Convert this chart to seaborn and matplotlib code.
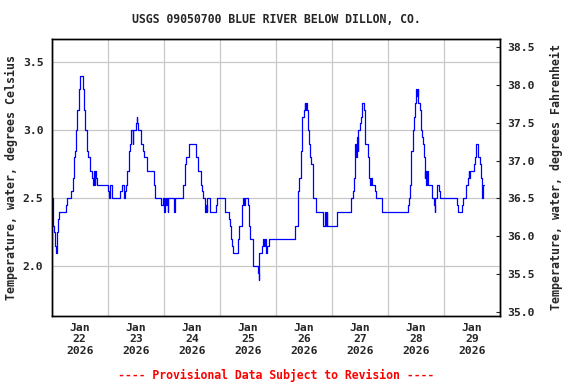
# USGS water temperature plot, Blue River below Dillon
import pandas as pd
import matplotlib
matplotlib.use("Agg")
import matplotlib.pyplot as plt
import matplotlib.dates as mdates
from matplotlib.ticker import FixedLocator, FormatStrFormatter
import seaborn as sns

# change points: hours since 2026-01-22 00:00, temperature in deg C
hours = [0.0, 0.4, 0.7, 1.1, 1.6, 1.9, 2.1, 2.4, 2.9, 3.3, 6.3, 6.7, 8.4, 8.9, 9.3, 9.7,
         10.1, 10.6, 11.0, 11.6, 12.0, 13.4, 14.0, 14.4, 14.9, 15.3, 15.7, 16.4, 17.3,
         17.7, 18.1, 18.4, 18.7, 19.1, 19.6, 24.3, 24.7, 25.1, 26.0, 29.4, 29.9, 31.1,
         31.6, 32.0, 32.4, 32.9, 33.3, 33.7, 34.1, 34.6, 35.0, 36.1, 36.4, 36.7, 37.0,
         38.4, 39.3, 39.7, 41.0, 43.9, 44.3, 47.0, 47.7, 48.1, 48.4, 48.9, 49.4, 49.7,
         50.0, 52.3, 52.6, 56.1, 56.9, 57.3, 57.7, 58.6, 61.6, 62.0, 62.6, 64.0, 64.4,
         64.9, 65.7, 66.1, 66.3, 66.6, 67.9, 70.4, 70.9, 74.4, 75.9, 76.3, 76.7, 77.1,
         77.6, 79.7, 80.4, 81.3, 81.7, 82.1, 82.4, 82.7, 83.9, 84.6, 85.0, 86.0, 86.4,
         88.3, 88.7, 88.9, 90.1, 90.6, 90.9, 91.3, 91.6, 92.4, 92.9, 104.4, 105.3, 105.7,
         106.1, 106.6, 107.0, 107.4, 107.9, 108.3, 108.6, 108.9, 109.3, 109.7, 110.1,
         110.6, 111.0, 111.9, 112.0, 113.0, 116.4, 117.1, 117.4, 117.9, 118.1, 122.4,
         128.4, 128.9, 129.3, 129.7, 130.1, 130.4, 130.7, 131.0, 131.4, 131.9, 132.4,
         132.9, 133.6, 134.0, 134.4, 135.3, 135.7, 136.1, 136.4, 136.7, 137.1, 138.3,
         138.7, 141.3, 152.4, 152.9, 153.3, 153.7, 154.1, 154.6, 155.0, 155.4, 155.9,
         156.1, 156.4, 156.7, 157.0, 157.7, 158.1, 158.6, 159.0, 159.4, 159.9, 160.1,
         160.4, 160.7, 161.1, 162.7, 163.6, 164.0, 164.3, 165.1, 166.0, 166.3, 173.4,
         173.9, 175.6, 176.0, 177.3, 178.1, 178.6, 178.9, 179.1, 180.7, 181.1, 181.6,
         182.6, 183.3, 183.7, 184.1, 184.4, 184.7, 185.0]
temp_c = [2.50, 2.45, 2.30, 2.25, 2.15, 2.10, 2.20, 2.25, 2.35, 2.40, 2.45, 2.50, 2.55, 2.60, 2.65, 2.80,
          2.85, 3.00, 3.15, 3.30, 3.40, 3.30, 3.15, 3.00, 2.95, 2.85, 2.80, 2.70, 2.65,
          2.60, 2.70, 2.60, 2.70, 2.65, 2.60, 2.55, 2.50, 2.60, 2.50, 2.55, 2.60, 2.50,
          2.55, 2.60, 2.70, 2.75, 2.85, 2.90, 3.00, 2.90, 3.00, 3.05, 3.10, 3.05, 3.00,
          2.90, 2.85, 2.80, 2.70, 2.60, 2.50, 2.45, 2.50, 2.40, 2.50, 2.45, 2.50, 2.40,
          2.50, 2.40, 2.50, 2.60, 2.65, 2.75, 2.80, 2.90, 2.85, 2.80, 2.70, 2.60, 2.55,
          2.50, 2.40, 2.45, 2.40, 2.50, 2.40, 2.45, 2.50, 2.40, 2.35, 2.30, 2.20, 2.15,
          2.10, 2.20, 2.30, 2.40, 2.45, 2.50, 2.45, 2.50, 2.45, 2.30, 2.20, 2.10, 2.00,
          1.95, 1.90, 2.10, 2.15, 2.20, 2.15, 2.20, 2.10, 2.15, 2.20, 2.30, 2.40, 2.55,
          2.65, 2.85, 3.00, 3.10, 3.15, 3.20, 3.15, 3.20, 3.15, 3.00, 2.90,
          2.80, 2.75, 2.65, 2.50, 2.40, 2.30, 2.40, 2.30, 2.40, 2.30, 2.40,
          2.50, 2.55, 2.65, 2.80, 2.90, 2.80, 2.95, 2.85, 3.00, 3.05, 3.10,
          3.20, 3.15, 3.00, 2.90, 2.80, 2.70, 2.65, 2.60, 2.65, 2.60, 2.55,
          2.50, 2.40, 2.45, 2.50, 2.60, 2.75, 2.85, 3.00, 3.10, 3.20, 3.25,
          3.30, 3.25, 3.30, 3.20, 3.15, 3.00, 2.95, 2.90, 2.80, 2.65, 2.70,
          2.60, 2.70, 2.60, 2.50, 2.45, 2.40, 2.50, 2.60, 2.55, 2.50, 2.45,
          2.40, 2.45, 2.50, 2.60, 2.65, 2.70, 2.65, 2.70, 2.75, 2.80, 2.90,
          2.80, 2.75, 2.65, 2.55, 2.50, 2.60, 2.60]

start = pd.Timestamp("2026-01-22")
df = pd.DataFrame({"time": start + pd.to_timedelta(hours, unit="h"), "temp": temp_c})

sns.set_style("white")
plt.rcParams["font.family"] = ["DejaVu Sans Mono"]
plt.rcParams["font.weight"] = "bold"

fig = plt.figure(figsize=(5.76, 3.84), dpi=100)
ax = fig.add_axes([0.0898, 0.1779, 0.7782, 0.7198])

sns.lineplot(data=df, x="time", y="temp", ax=ax, color="#0000ff", lw=0.9,
             drawstyle="steps-post", estimator=None)

ylim_c = (1.637, 3.669)
ax.set_ylim(*ylim_c)
ax.set_xlim(start, start + pd.Timedelta(days=8))

ax.yaxis.set_major_locator(FixedLocator([2.0, 2.5, 3.0, 3.5]))
ax.yaxis.set_major_formatter(FormatStrFormatter("%.1f"))
ax.xaxis.set_major_locator(mdates.HourLocator(byhour=[12]))
ax.xaxis.set_major_formatter(mdates.DateFormatter("%b\n%d\n%Y"))
ax.xaxis.set_minor_locator(mdates.DayLocator())
ax.grid(False)
ax.grid(True, axis="y", which="major", color="#c8c8c8", lw=0.9)
ax.grid(True, axis="x", which="minor", color="#c8c8c8", lw=0.9)
ax.tick_params(axis="both", which="both", length=0, labelsize=8.2)
ax.tick_params(axis="y", pad=6)
ax.tick_params(axis="x", pad=5)
for lbl in ax.get_xticklabels():
    lbl.set_linespacing(1.2)
for s in ax.spines.values():
    s.set_color("black")
    s.set_linewidth(1.0)

ax.set_xlabel("")
ax.set_ylabel("Temperature, water, degrees Celsius", fontsize=8.4, fontweight="bold")
ax.yaxis.set_label_coords(-0.075, 0.5)

# Fahrenheit axis on the right
ax2 = ax.twinx()
ax2.set_ylim(ylim_c[0] * 1.8 + 32, ylim_c[1] * 1.8 + 32)
ax2.yaxis.set_major_locator(FixedLocator([35.0, 35.5, 36.0, 36.5, 37.0, 37.5, 38.0, 38.5]))
ax2.yaxis.set_major_formatter(FormatStrFormatter("%.1f"))
ax2.tick_params(axis="y", direction="in", length=3, width=0.8, pad=5, labelsize=8.2)
ax2.grid(False)
ax2.set_ylabel("Temperature, water, degrees Fahrenheit", fontsize=8.4, fontweight="bold",
               rotation=90)
ax2.yaxis.set_label_coords(1.111, 0.5)
for s in ax2.spines.values():
    s.set_color("black")
    s.set_linewidth(1.0)

fig.text(0.479, 0.95, "USGS 09050700 BLUE RIVER BELOW DILLON, CO.", ha="center", va="center",
         fontsize=8.3, fontweight="bold")
fig.text(0.479, 0.023, "---- Provisional Data Subject to Revision ----", ha="center",
         va="center", fontsize=8.3, fontweight="bold", color="#ff0000")

fig.savefig("out.png", dpi=100)
plt.close(fig)
